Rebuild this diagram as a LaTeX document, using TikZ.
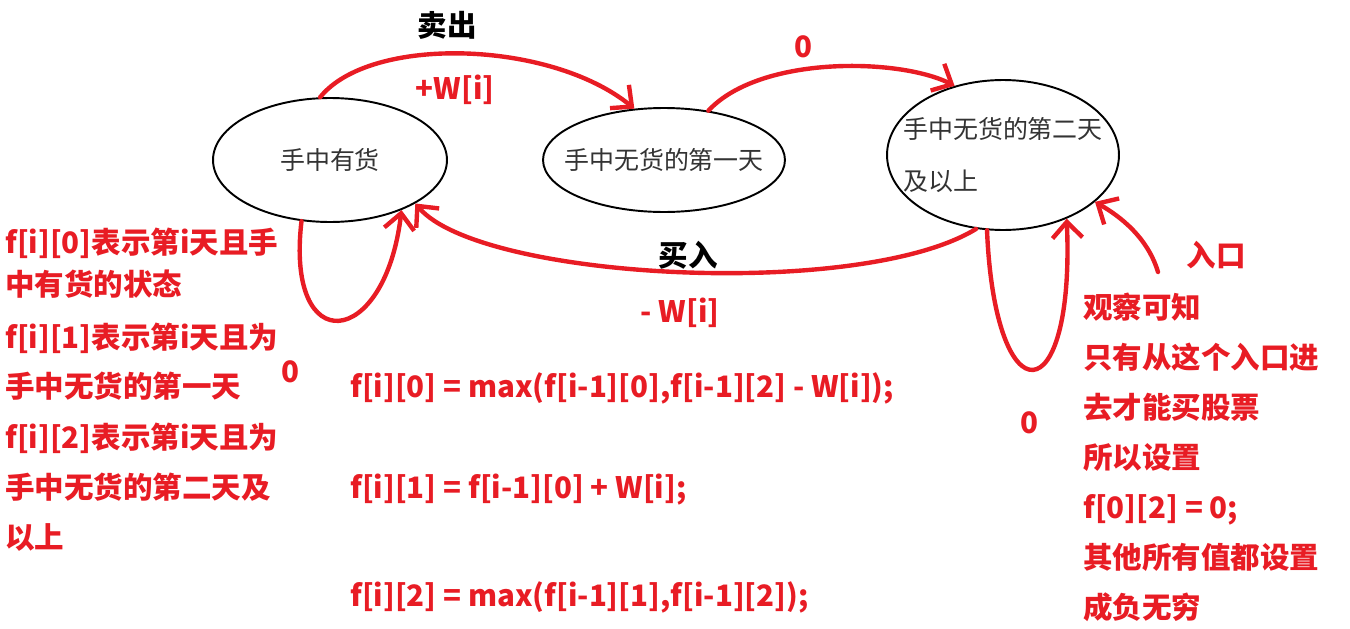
\documentclass[tikz,border=0pt]{standalone}
\usepackage{fontspec}
\setmainfont{Noto Sans CJK SC}
\usetikzlibrary{shapes.geometric, arrows.meta}
\definecolor{markred}{RGB}{232,28,36}
\tikzset{
    state/.style={draw=black, line width=1.1pt, ellipse, inner sep=0pt},
    statetext/.style={text=black!80, inner sep=0pt, align=left, font=\fontsize{14.2}{29.5}\selectfont},
    hand/.style={draw=markred, line width=2.5pt, line cap=round, line join=round},
    handarrow/.style={-{Straight Barb[length=3.2mm, width=6mm, line width=2.5pt]}},
    title/.style={inner sep=0pt, font=\bfseries\fontsize{16.8}{20}\selectfont},
    tag/.style={title, text=markred},
    note/.style={tag, align=left, anchor=north west}
}

\begin{document}
\begin{tikzpicture}[x=0.02cm, y=-0.02cm]
    \useasboundingbox (0,0) rectangle (1350,629);
    % states
    \node[state, minimum width=4.68cm, minimum height=2.48cm,
          label={[statetext]center:手中有货}] (have) at (330,160) {};
    \node[state, minimum width=4.84cm, minimum height=2.08cm,
          label={[statetext]center:手中无货的第一天}] (first) at (664,160) {};
    \node[state, minimum width=4.64cm, minimum height=3.0cm,
          label={[statetext]center:手中无货的第二天\\及以上}] (second) at (1003,155) {};
    \coordinate (entryfoot) at (1158,272);
    % transitions
    \draw[hand, handarrow] (have.99) .. controls (370,35) and (550,40) .. (first.120);
    \draw[hand, handarrow] (first.48) .. controls (760,55) and (900,58) .. (second.125);
    \draw[hand, handarrow] (second.250) .. controls (860,300) and (480,280) .. (have.333);
    \draw[hand, handarrow] (have.245) .. controls (285,360) and (385,350) .. (have.325);
    \draw[hand, handarrow] (second.258) .. controls (995,420) and (1075,415) .. (second.315);
    \draw[hand, handarrow] (entryfoot) .. controls (1150,245) and (1130,222) .. (second.333);
    % labels
    \node[title] (sell) at (447,25) {卖出};
    \node[tag] (gain) at (455,90) {+W[i]};
    \node[tag] (zeroa) at (803,47) {0};
    \node[title] (buy) at (688,255) {买入};
    \node[tag] (cost) at (680,313) {- W[i]};
    \node[tag] (zerob) at (290,372) {0};
    \node[tag] (zeroc) at (1029,423) {0};
    \node[tag] (entry) at (1216,255) {入口};
    % notes
    \node[note, font=\bfseries\fontsize{16.8}{23.8}\selectfont] (noteA) at (5,228) {f[i][0]表示第i天且手\\中有货的状态};
    \node[note, font=\bfseries\fontsize{16.8}{27.8}\selectfont] (noteB) at (5,323) {f[i][1]表示第i天且为\\手中无货的第一天};
    \node[note, font=\bfseries\fontsize{16.8}{28.4}\selectfont] (noteC) at (5,423) {f[i][2]表示第i天且为\\手中无货的第二天及\\以上};
    \node[note, font=\bfseries\fontsize{16.8}{28.4}\selectfont] (noteD) at (1083,293) {观察可知\\只有从这个入口进\\去才能买股票\\所以设置\\f[0][2] = 0;\\其他所有值都设置\\成负无穷};
    % recurrences
    \node[tag, anchor=west] (rowA) at (350,388) {f[i][0] = max(f[i-1][0],f[i-1][2] - W[i]);};
    \node[tag, anchor=west] (rowB) at (350,490) {f[i][1] = f[i-1][0] + W[i];};
    \node[tag, anchor=west] (rowC) at (350,597) {f[i][2] = max(f[i-1][1],f[i-1][2]);};
\end{tikzpicture}
\end{document}
